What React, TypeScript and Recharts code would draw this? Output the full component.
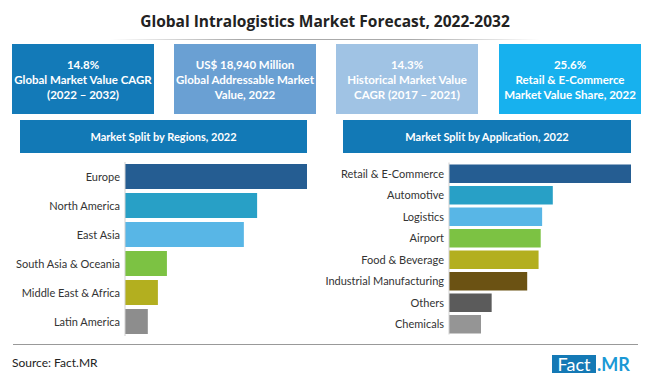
import React from "react";
import { BarChart, Bar, XAxis, YAxis, Cell } from "recharts";

const regions = ["Europe", "North America", "East Asia", "South Asia & Oceania", "Middle East & Africa", "Latin America"];
const regionShare = [34.3, 24.9, 22.4, 7.9, 6.2, 4.3];
const regionColors = ["#255d92", "#28a0c6", "#58b6e6", "#7cc243", "#b3af1f", "#8d8d8d"];

const applications = ["Retail & E-Commerce", "Automotive", "Logistics", "Airport", "Food & Beverage", "Industrial Manufacturing", "Others", "Chemicals"];
const applicationShare = [25.6, 14.6, 13.1, 12.9, 12.6, 11.0, 6.0, 4.5];
const applicationColors = ["#255d92", "#28a0c6", "#58b6e6", "#7cc243", "#b3af1f", "#6b5213", "#5b5b5b", "#959595"];

const statBoxes = [
  { lines: ["14.8%", "Global Market Value CAGR", "(2022 – 2032)"], color: "#137ab8" },
  { lines: ["US$ 18,940 Million", "Global Addressable Market", "Value, 2022"], color: "#6aa0d3" },
  { lines: ["14.3%", "Historical Market Value", "CAGR (2017 – 2021)"], color: "#a0c3e4" },
  { lines: ["25.6%", "Retail & E-Commerce", "Market Value Share, 2022"], color: "#17b1ee" },
];
const boxLefts = [12, 174, 336, 499];

const regionData = regions.map((name, i) => ({ name, value: regionShare[i] }));
const applicationData = applications.map((name, i) => ({ name, value: applicationShare[i] }));

const FONT = "Lato, 'Open Sans', sans-serif";

const LabelTick = (props: any) => {
  const { x, y, payload } = props;
  return (
    <text x={x} y={y} textAnchor="end" dominantBaseline="central" fill="#333" fontSize={11} fontFamily={FONT}>
      {payload.value}
    </text>
  );
};

export default function App() {
  return (
    <div style={{ position: "absolute", left: 0, top: 0, width: 650, height: 384, background: "#fff", fontFamily: FONT, overflow: "hidden" }}>
      <div style={{ position: "absolute", left: 0, top: 11, width: 650, textAlign: "center", fontSize: 15.5, fontWeight: 700, color: "#222", fontFamily: "'Open Sans', sans-serif", lineHeight: "20px", whiteSpace: "nowrap" }}>
        Global Intralogistics Market Forecast, 2022-2032
      </div>
      <div style={{ position: "absolute", left: 110, top: 39, width: 430, height: 1, background: "linear-gradient(to right, rgba(170,170,170,0), #aaa 30%, #aaa 70%, rgba(170,170,170,0))" }} />
      {statBoxes.map((b, i) => (
        <div key={i} style={{ position: "absolute", left: boxLefts[i], top: 44, width: 142, height: 70, background: b.color, color: "#fff", fontWeight: 700, fontSize: 11.5, lineHeight: "15px", textAlign: "center", display: "flex", flexDirection: "column", justifyContent: "center", whiteSpace: "nowrap" }}>
          {b.lines.map((l, j) => (<div key={j}>{l}</div>))}
        </div>
      ))}
      <div style={{ position: "absolute", left: 20, top: 120, width: 287, height: 33, background: "#1279b6", color: "#fff", fontWeight: 700, fontSize: 11, lineHeight: "33px", textAlign: "center" }}>
        Market Split by Regions, 2022
      </div>
      <div style={{ position: "absolute", left: 343, top: 120, width: 288, height: 33, background: "#1279b6", color: "#fff", fontWeight: 700, fontSize: 11, lineHeight: "33px", textAlign: "center" }}>
        Market Split by Application, 2022
      </div>
      <div style={{ position: "absolute", left: 0, top: 158 }}>
        <BarChart width={320} height={180} data={regionData} layout="vertical" margin={{ top: 4, right: 13, bottom: 2, left: 0 }}>
          <XAxis type="number" hide domain={[0, "dataMax"]} />
          <YAxis type="category" dataKey="name" width={125} axisLine={{ stroke: "#d0d0d0" }} tickLine={false} tickSize={3} tickMargin={2} tick={<LabelTick />} interval={0} />
          <Bar dataKey="value" barSize={25} isAnimationActive={false}>
            {regionData.map((d, i) => (<Cell key={d.name} fill={regionColors[i]} />))}
          </Bar>
        </BarChart>
      </div>
      <div style={{ position: "absolute", left: 320, top: 158 }}>
        <BarChart width={330} height={180} data={applicationData} layout="vertical" margin={{ top: 4.5, right: 19, bottom: 3.5, left: 0 }}>
          <XAxis type="number" hide domain={[0, "dataMax"]} />
          <YAxis type="category" dataKey="name" width={129} axisLine={{ stroke: "#d0d0d0" }} tickLine={false} tickSize={3} tickMargin={2} tick={<LabelTick />} interval={0} />
          <Bar dataKey="value" barSize={18.5} isAnimationActive={false}>
            {applicationData.map((d, i) => (<Cell key={d.name} fill={applicationColors[i]} />))}
          </Bar>
        </BarChart>
      </div>
      <div style={{ position: "absolute", left: 13, top: 344, width: 625, height: 1, background: "#999" }} />
      <div style={{ position: "absolute", left: 12, top: 355, fontSize: 12, color: "#222", lineHeight: "16px" }}>Source: Fact.MR</div>
      <div style={{ position: "absolute", left: 552, top: 355, width: 44, height: 18, background: "#1479b5", color: "#fff", fontSize: 18, lineHeight: "18px", textAlign: "center" }}>Fact</div>
      <div style={{ position: "absolute", left: 597, top: 355, height: 18, color: "#1a98d5", fontSize: 18, fontWeight: 700, lineHeight: "18px" }}>.MR</div>
    </div>
  );
}
